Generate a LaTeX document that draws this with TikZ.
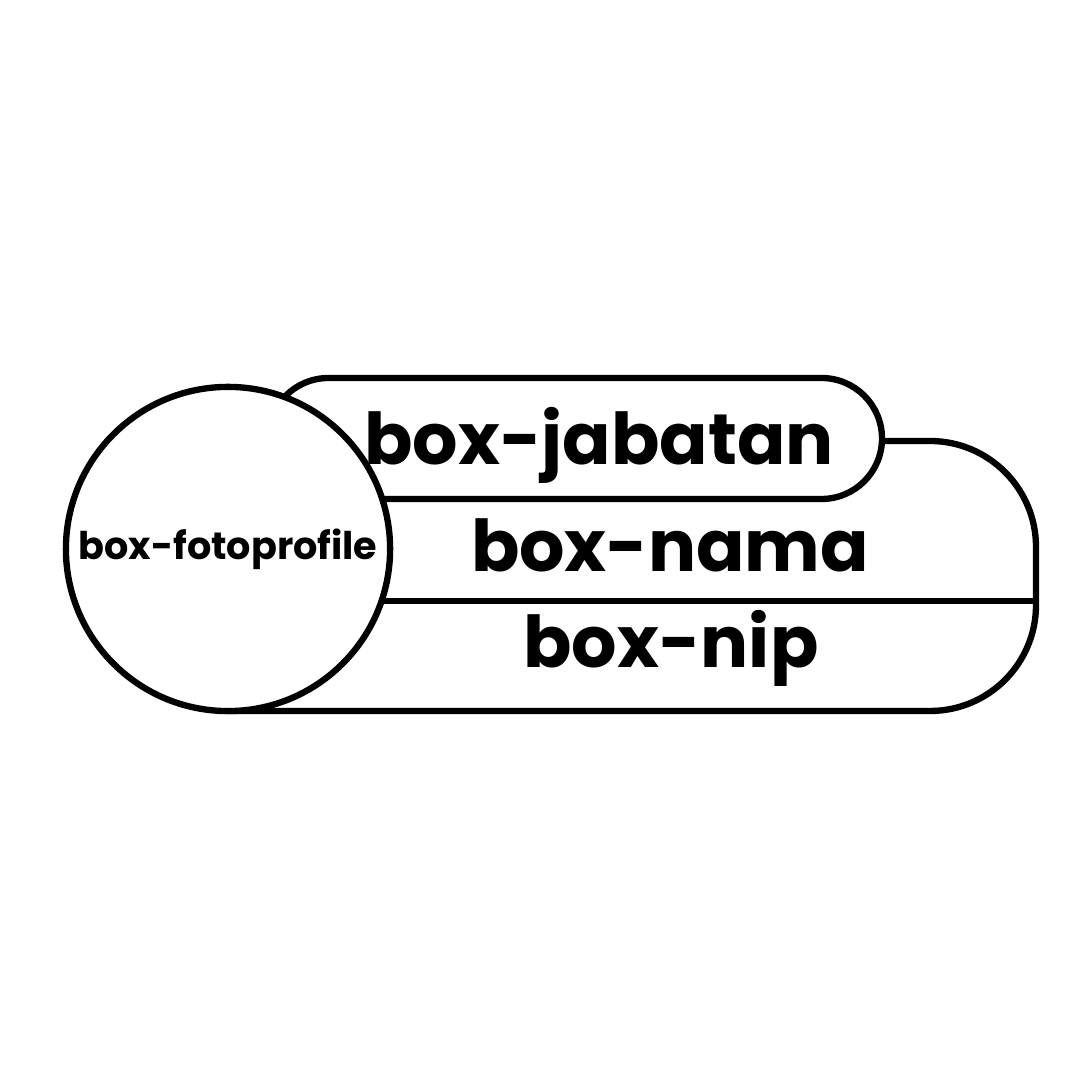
\documentclass[tikz,border=0pt]{standalone}
\usepackage{fontspec}
\setmainfont{Poppins}
\usepackage{xcolor}
\usepackage{tikz}
\usetikzlibrary{positioning,calc}

\tikzset{
  outline/.style={line width=1.8pt,draw=black,fill=white},
  labeltext/.style={font=\bfseries\fontsize{20.3}{24}\selectfont,anchor=base,inner sep=0pt}
}

\begin{document}
\begin{tikzpicture}[x=0.01cm,y=0.01cm]
\useasboundingbox (0,0) rectangle (1089,1089);
% large box with nama and nip
\draw[outline] (228,648) -- (930,648) arc[start angle=90,end angle=0,radius=106]
  -- (1036,484) arc[start angle=0,end angle=-90,radius=106] -- (228,378) -- cycle;
\draw[line width=1.8pt] (228,488) -- (1036,488);
% jabatan pill
\draw[outline,rounded corners=6.05mm] (268,590) rectangle (882,711);
% foto
\node[outline,circle,minimum size=3.24cm,inner sep=0pt,font=\bfseries\fontsize{10.85}{13}\selectfont]
  (foto) at (228,540) {box-fotoprofile};
\foreach \n/\t/\x/\y in {jabatan/box-jabatan/599/624,nama/box-nama/670/517,nip/box-nip/671/421}{
  \node[labeltext] (\n) at (\x,\y) {\t};
}
\end{tikzpicture}
\end{document}
